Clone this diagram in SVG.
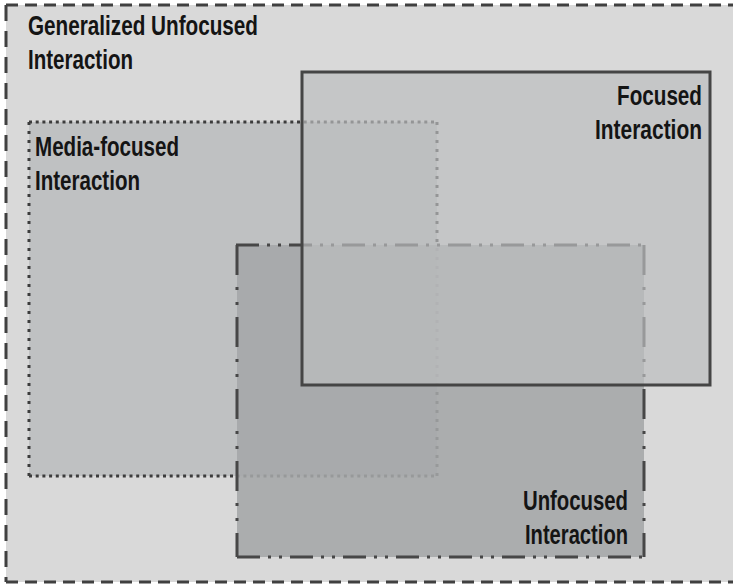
<svg xmlns="http://www.w3.org/2000/svg" width="733" height="587" viewBox="0 0 733 587">
<style>
  text { font-family: "Liberation Sans Narrow", "Liberation Sans", Arial, sans-serif; font-weight: bold; font-size: 27.5px; fill: #141414; }
  .od { stroke: #404040; stroke-width: 3; fill: none; }
  .odh { stroke-dasharray: 12 7; }
  .odv { stroke-dasharray: 16 10; }
  .md { stroke: #3c3c3c; stroke-width: 3; fill: none; }
  .mdh { stroke-dasharray: 3 3.7; }
  .mdv { stroke-dasharray: 3 6; }
  .ud { stroke: #474747; stroke-width: 3; fill: none; }
  .udh { stroke-dasharray: 23 8 3 8 3 8; }
  .udv { stroke-dasharray: 30 12 3 12 3 12; }
  .fd { stroke: #454545; stroke-width: 3; fill: rgba(188,190,191,0.69); }
</style>
<rect x="0" y="0" width="733" height="587" fill="#ffffff"/>
<g id="generalized-unfocused">
  <rect x="6" y="5" width="740" height="577" fill="#d9d9d9"/>
  <line class="od odh" x1="6" y1="5" x2="740" y2="5"/>
  <line class="od odv" x1="6" y1="5" x2="6" y2="582"/>
  <line class="od odh" x1="6" y1="582" x2="740" y2="582"/>
  <text x="28" y="35" textLength="230" lengthAdjust="spacingAndGlyphs">Generalized Unfocused</text>
  <text x="28" y="69" textLength="105" lengthAdjust="spacingAndGlyphs">Interaction</text>
</g>
<g id="media-focused">
  <rect x="29" y="122" width="408" height="354" fill="#bfc1c2"/>
  <line class="md mdh" x1="29" y1="122" x2="437" y2="122"/>
  <line class="md mdv" x1="437" y1="122" x2="437" y2="476"/>
  <line class="md mdh" x1="29" y1="476" x2="437" y2="476"/>
  <line class="md mdv" x1="29" y1="122" x2="29" y2="476"/>
  <text x="35" y="156" textLength="144" lengthAdjust="spacingAndGlyphs">Media-focused</text>
  <text x="35" y="190" textLength="105" lengthAdjust="spacingAndGlyphs">Interaction</text>
</g>
<g id="unfocused">
  <rect x="237" y="245" width="407" height="312" fill="rgba(165,167,168,0.875)"/>
  <line class="ud udh" x1="236" y1="245" x2="644" y2="245"/>
  <line class="ud udv" x1="644" y1="245" x2="644" y2="557"/>
  <line class="ud udh" x1="237" y1="557" x2="644" y2="557"/>
  <line class="ud udv" x1="237" y1="245" x2="237" y2="557"/>
  <text x="523" y="510" textLength="105" lengthAdjust="spacingAndGlyphs">Unfocused</text>
  <text x="525" y="544" textLength="103" lengthAdjust="spacingAndGlyphs">Interaction</text>
</g>
<g id="focused">
  <rect class="fd" x="302" y="72" width="408" height="313"/>
  <text x="617" y="105" textLength="85" lengthAdjust="spacingAndGlyphs">Focused</text>
  <text x="595" y="139" textLength="107" lengthAdjust="spacingAndGlyphs">Interaction</text>
</g>
<g id="connectors"></g>
</svg>
